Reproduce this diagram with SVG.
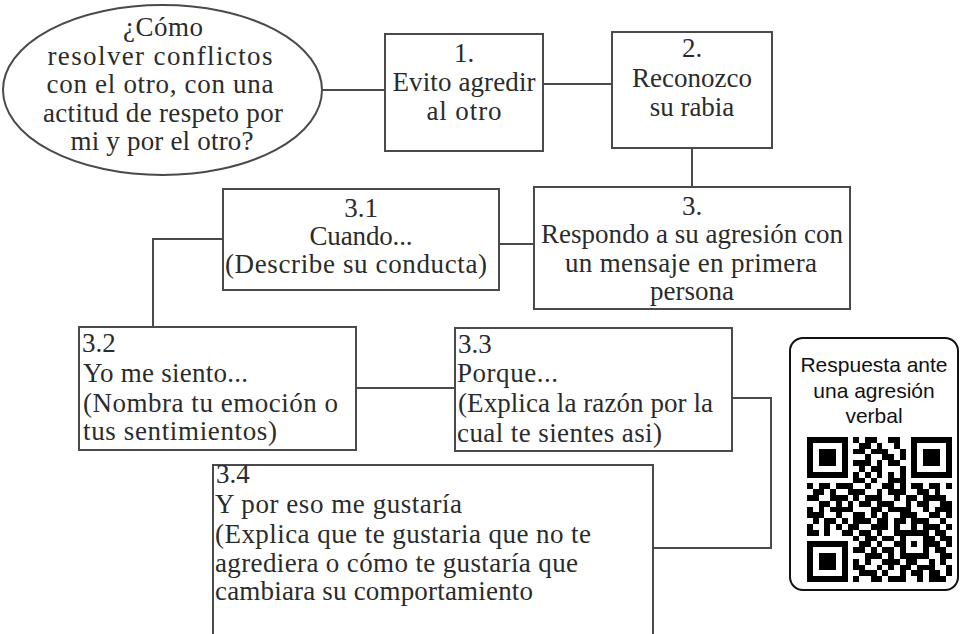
<svg xmlns="http://www.w3.org/2000/svg" width="961" height="634" viewBox="0 0 961 634">
<style>
.box{fill:#fff;stroke:#4a4a4a;stroke-width:2}
.con{fill:none;stroke:#4a4a4a;stroke-width:2}
.t{font-family:"Liberation Serif","Times New Roman",serif;font-size:27px;fill:#2b2b2b}
.c{text-anchor:middle}
.s{font-family:"Liberation Sans",Arial,sans-serif;font-size:21px;fill:#111;text-anchor:middle}
</style>
<rect width="961" height="634" fill="#fff"/>
<g id="connectors">
<line class="con" x1="322" y1="90" x2="385" y2="90"/>
<line class="con" x1="543" y1="84" x2="612" y2="84"/>
<line class="con" x1="692" y1="148" x2="692" y2="187"/>
<line class="con" x1="499" y1="244" x2="534" y2="244"/>
<polyline class="con" points="223,239 153,239 153,327"/>
<line class="con" x1="356" y1="388" x2="455" y2="388"/>
<polyline class="con" points="732,398 771,398 771,548 653,548"/>
</g>
<g id="question">
<ellipse class="box" cx="162.5" cy="90" rx="159.5" ry="85"/>
<text class="t c" x="163" y="36" textLength="80" lengthAdjust="spacing">¿Cómo</text>
<text class="t c" x="160" y="65" textLength="225" lengthAdjust="spacing">resolver conflictos</text>
<text class="t c" x="160" y="93" textLength="227" lengthAdjust="spacing">con el otro, con una</text>
<text class="t c" x="163" y="122" textLength="240" lengthAdjust="spacing">actitud de respeto por</text>
<text class="t c" x="162" y="150" textLength="183" lengthAdjust="spacing">mi y por el otro?</text>
</g>
<g id="n1">
<rect class="box" x="385" y="34" width="158" height="117"/>
<text class="t c" x="464" y="62">1.</text>
<text class="t c" x="464" y="91" textLength="143" lengthAdjust="spacing">Evito agredir</text>
<text class="t c" x="464" y="120" textLength="75" lengthAdjust="spacing">al otro</text>
</g>
<g id="n2">
<rect class="box" x="612" y="32" width="160" height="116"/>
<text class="t c" x="692" y="57">2.</text>
<text class="t c" x="692" y="87">Reconozco</text>
<text class="t c" x="692" y="116">su rabia</text>
</g>
<g id="n3">
<rect class="box" x="534" y="187" width="316" height="122"/>
<text class="t c" x="692" y="215">3.</text>
<text class="t c" x="692" y="243" textLength="302" lengthAdjust="spacing">Respondo a su agresión con</text>
<text class="t c" x="691" y="272" textLength="252" lengthAdjust="spacing">un mensaje en primera</text>
<text class="t c" x="692" y="300">persona</text>
</g>
<g id="n31">
<rect class="box" x="223" y="189" width="276" height="101"/>
<text class="t c" x="361" y="217">3.1</text>
<text class="t c" x="361" y="245" textLength="103" lengthAdjust="spacing">Cuando...</text>
<text class="t c" x="356" y="273" textLength="262" lengthAdjust="spacing">(Describe su conducta)</text>
</g>
<g id="n32">
<rect class="box" x="79" y="327" width="277" height="123"/>
<text class="t" x="82" y="352">3.2</text>
<text class="t" x="83" y="382" textLength="165" lengthAdjust="spacing">Yo me siento...</text>
<text class="t" x="83" y="412" textLength="255" lengthAdjust="spacing">(Nombra tu emoción o</text>
<text class="t" x="83" y="440" textLength="194" lengthAdjust="spacing">tus sentimientos)</text>
</g>
<g id="n33">
<rect class="box" x="455" y="328" width="277" height="123"/>
<text class="t" x="458" y="353">3.3</text>
<text class="t" x="457" y="382" textLength="101" lengthAdjust="spacing">Porque...</text>
<text class="t" x="458" y="412" textLength="255" lengthAdjust="spacing">(Explica la razón por la</text>
<text class="t" x="457" y="442" textLength="205" lengthAdjust="spacing">cual te sientes asi)</text>
</g>
<g id="n34">
<rect class="box" x="213" y="465" width="440" height="185"/>
<text class="t" x="216" y="483">3.4</text>
<text class="t" x="215" y="513" textLength="247" lengthAdjust="spacing">Y por eso me gustaría</text>
<text class="t" x="215" y="543" textLength="376" lengthAdjust="spacing">(Explica que te gustaria que no te</text>
<text class="t" x="215" y="572" textLength="363" lengthAdjust="spacing">agrediera o cómo te gustaría que</text>
<text class="t" x="215" y="600" textLength="318" lengthAdjust="spacing">cambiara su comportamiento</text>
</g>
<g id="qr-card">
<rect x="790" y="338" width="168" height="252" rx="13" fill="#fff" stroke="#111" stroke-width="2"/>
<text class="s" x="874" y="372">Respuesta ante</text>
<text class="s" x="874" y="398">una agresión</text>
<text class="s" x="874" y="423">verbal</text>
<g transform="translate(807,437) scale(5.8)">
<path fill="none" stroke="#000" stroke-width="1.02" shape-rendering="crispEdges" d="M0 .5h7M8 .5h1M10 .5h2M14 .5h2M18 .5h7M0 1.5h1M6 1.5h1M9 1.5h2M12 1.5h1M15 1.5h1M18 1.5h1M24 1.5h1M0 2.5h1M2 2.5h3M6 2.5h1M8 2.5h2M11 2.5h3M16 2.5h1M18 2.5h1M20 2.5h3M24 2.5h1M0 3.5h1M2 3.5h3M6 3.5h1M10 3.5h1M13 3.5h2M16 3.5h1M18 3.5h1M20 3.5h3M24 3.5h1M0 4.5h1M2 4.5h3M6 4.5h1M8 4.5h3M12 4.5h1M14 4.5h2M18 4.5h1M20 4.5h3M24 4.5h1M0 5.5h1M6 5.5h1M9 5.5h1M11 5.5h2M16 5.5h1M18 5.5h1M24 5.5h1M0 6.5h7M8 6.5h1M10 6.5h1M12 6.5h1M14 6.5h1M16 6.5h1M18 6.5h7M8 7.5h2M11 7.5h1M14 7.5h3M0 8.5h1M2 8.5h2M5 8.5h3M10 8.5h1M13 8.5h2M16 8.5h1M18 8.5h2M21 8.5h2M24 8.5h1M1 9.5h2M4 9.5h1M7 9.5h3M12 9.5h1M14 9.5h3M19 9.5h2M22 9.5h1M0 10.5h2M4 10.5h3M8 10.5h1M10 10.5h3M15 10.5h1M17 10.5h2M20 10.5h4M2 11.5h2M5 11.5h1M7 11.5h1M9 11.5h2M12 11.5h3M17 11.5h1M19 11.5h2M23 11.5h2M0 12.5h1M2 12.5h1M4 12.5h4M11 12.5h2M14 12.5h4M20 12.5h1M22 12.5h3M0 13.5h3M5 13.5h1M8 13.5h2M11 13.5h1M13 13.5h1M16 13.5h3M21 13.5h2M24 13.5h1M1 14.5h1M3 14.5h2M6 14.5h1M8 14.5h3M12 14.5h2M15 14.5h2M18 14.5h3M23 14.5h1M0 15.5h1M3 15.5h1M5 15.5h1M7 15.5h2M11 15.5h3M15 15.5h1M18 15.5h1M20 15.5h3M24 15.5h1M0 16.5h2M3 16.5h1M6 16.5h2M9 16.5h2M12 16.5h1M15 16.5h6M22 16.5h2M8 17.5h1M10 17.5h2M13 17.5h2M16 17.5h1M20 17.5h2M23 17.5h2M0 18.5h7M9 18.5h2M12 18.5h1M15 18.5h2M18 18.5h1M20 18.5h3M24 18.5h1M0 19.5h1M6 19.5h1M8 19.5h2M11 19.5h1M13 19.5h2M16 19.5h1M20 19.5h1M22 19.5h2M0 20.5h1M2 20.5h3M6 20.5h1M10 20.5h3M14 20.5h1M16 20.5h5M23 20.5h2M0 21.5h1M2 21.5h3M6 21.5h1M8 21.5h1M10 21.5h1M13 21.5h3M17 21.5h2M21 21.5h1M23 21.5h1M0 22.5h1M2 22.5h3M6 22.5h1M8 22.5h2M12 22.5h1M14 22.5h1M16 22.5h2M19 22.5h3M24 22.5h1M0 23.5h1M6 23.5h1M9 23.5h3M13 23.5h1M16 23.5h1M18 23.5h2M21 23.5h2M24 23.5h1M0 24.5h7M8 24.5h1M11 24.5h2M14 24.5h3M19 24.5h1M21 24.5h3"/>
</g>
</g>
</svg>
